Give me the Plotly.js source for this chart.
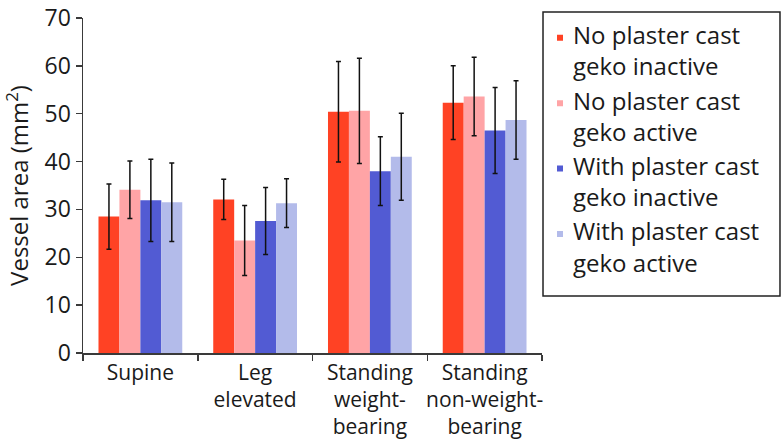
<!DOCTYPE html>
<html>
<head>
<meta charset="utf-8">
<script src="https://cdn.plot.ly/plotly-3.0.1.min.js"></script>
<style>html,body{margin:0;padding:0;background:#fff;}#chart{width:783px;height:442px;}</style>
</head>
<body>
<div id="chart"></div>
<script>
const categories = ["Supine", "Leg<br>elevated", "Standing<br>weight-<br>bearing", "Standing<br>non-weight-<br>bearing"];
const seriesNames = ["No plaster cast<br>geko inactive", "No plaster cast<br>geko active", "With plaster cast<br>geko inactive", "With plaster cast<br>geko active"];
const noCastInactive = [28.5, 32.1, 50.4, 52.3];
const noCastActive = [34.1, 23.5, 50.6, 53.6];
const castInactive = [31.9, 27.6, 38.0, 46.5];
const castActive = [31.5, 31.3, 41.0, 48.7];
const errNoCastInactive = [6.8, 4.2, 10.5, 7.7];
const errNoCastActive = [6.0, 7.3, 11.0, 8.2];
const errCastInactive = [8.6, 7.0, 7.2, 9.0];
const errCastActive = [8.2, 5.1, 9.1, 8.2];
const colors = ["#ff4224", "#ffa4a6", "#525bd3", "#b3bbea"];

const values = [noCastInactive, noCastActive, castInactive, castActive];
const errors = [errNoCastInactive, errNoCastActive, errCastInactive, errCastActive];

const traces = values.map((v, i) => ({
  type: "bar",
  x: categories,
  y: v,
  name: seriesNames[i],
  marker: {color: colors[i], line: {width: 0}},
  error_y: {type: "data", array: errors[i], visible: true, color: "#111", thickness: 1.5, width: 2.5}
}));

const fam = "'Open Sans', 'Noto Sans', sans-serif";
const txt = "#1a1a1a";

const layout = {
  width: 783, height: 442,
  margin: {l: 83, r: 241, t: 18, b: 89},
  paper_bgcolor: "#fff", plot_bgcolor: "#fff",
  font: {family: fam, size: 21, color: txt},
  barmode: "group",
  bargap: 0.27,
  bargroupgap: 0,
  showlegend: true,
  legend: {
    x: 0.9804, y: 1.016, xanchor: "left", yanchor: "top",
    borderwidth: 0, bgcolor: "rgba(0,0,0,0)",
    font: {family: fam, size: 24, color: txt},
    valign: "top",
    maxheight: 440
  },
  shapes: [{
    type: "rect", xref: "paper", yref: "paper",
    x0: 1.0022, x1: 1.5185, y0: 0.170, y1: 1.018,
    line: {color: "#222", width: 1.5}, fillcolor: "rgba(0,0,0,0)", layer: "below"
  }],
  xaxis: {
    type: "category",
    showline: true, linecolor: "#3a3a3a", linewidth: 1.5,
    ticks: "outside", tickson: "boundaries", ticklen: 6, tickcolor: "#3a3a3a", tickwidth: 1.5,
    tickangle: 0,
    tickfont: {family: fam, size: 21, color: txt},
    showgrid: false, zeroline: false
  },
  yaxis: {
    range: [0, 70], dtick: 10,
    showline: true, linecolor: "#3a3a3a", linewidth: 1.5,
    ticks: "outside", ticklen: 6, tickcolor: "#3a3a3a", tickwidth: 1.5,
    tickfont: {family: fam, size: 23, color: txt},
    showgrid: false, zeroline: false,
    title: {text: "Vessel area (mm<sup>2</sup>)", font: {family: fam, size: 24, color: txt}, standoff: 10}
  }
};

Plotly.newPlot("chart", traces, layout, {displayModeBar: false, staticPlot: true}).then(() => {
  document.querySelectorAll("#chart .legend .traces").forEach(tr => {
    const p = tr.querySelector(".legendpoints path");
    const t = tr.querySelector("text.legendtext");
    if (!p || !t) return;
    const pr = p.getBoundingClientRect();
    const tr2 = t.getBoundingClientRect();
    const dx = (tr2.left - 13) - (pr.left + pr.width / 2);
    const existing = p.getAttribute("transform") || "";
    p.setAttribute("transform", existing + " translate(" + dx + ",3) scale(0.5)");
  });
});
</script>
</body>
</html>
